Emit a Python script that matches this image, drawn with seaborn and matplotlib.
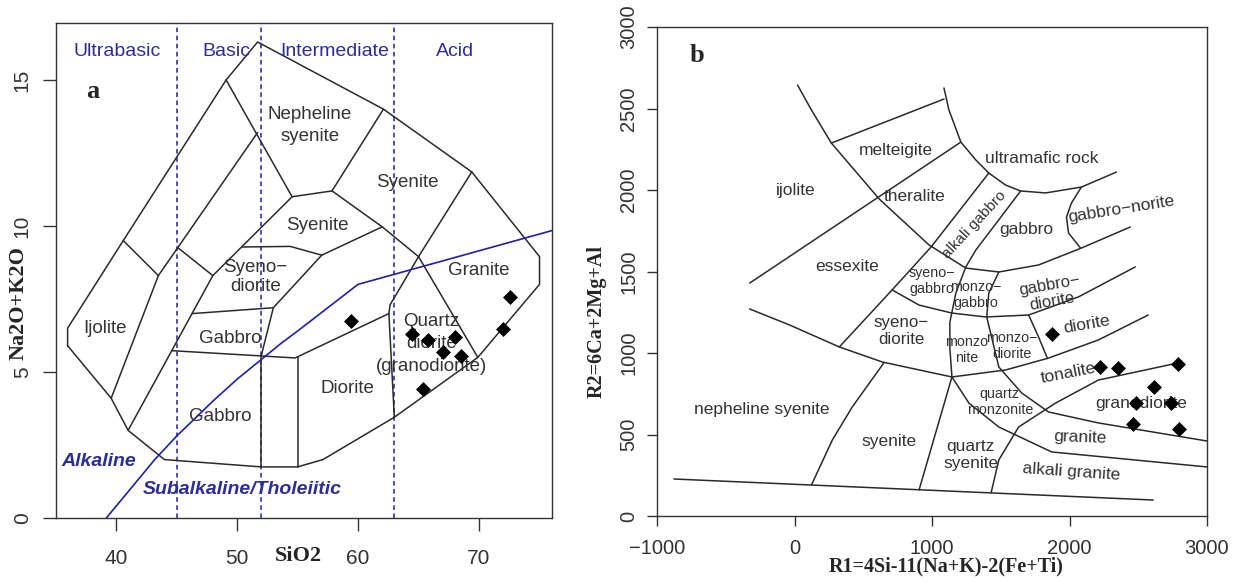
import matplotlib
matplotlib.use("Agg")
import matplotlib.pyplot as plt
import pandas as pd
import seaborn as sns

# ---------------- data: panel a (TAS, plutonic) ----------------
sio2 = [59.4, 64.5, 65.8, 68.0, 67.0, 68.5, 65.4, 72.6, 72.0]
alk = [6.75, 6.30, 6.10, 6.20, 5.68, 5.55, 4.42, 7.57, 6.47]

tas_outline = [(36.0, 5.9), (36.0, 6.5), (40.6, 9.5), (49.1, 15.0), (51.7, 16.3),
               (62.1, 14.0), (69.4, 11.85), (75.0, 8.95), (75.0, 8.0), (69.9, 5.5),
               (63.0, 3.45), (57.1, 2.0), (55.0, 1.75), (52.0, 1.75), (44.0, 2.0),
               (41.0, 3.0), (39.6, 4.1), (36.0, 5.9)]
tas_lines = [
    [(40.6, 9.5), (43.5, 8.3)],
    [(51.7, 13.2), (43.5, 8.3), (39.6, 4.1)],
    [(49.1, 15.0), (54.55, 11.0)],
    [(54.55, 11.0), (57.85, 11.2)],
    [(57.85, 11.2), (62.1, 14.0)],
    [(57.85, 11.2), (62.0, 9.97), (65.0, 8.95)],
    [(69.4, 11.85), (65.0, 8.95), (62.65, 7.3), (62.55, 7.0)],
    [(65.0, 8.95), (69.9, 5.5)],
    [(41.0, 3.0), (48.0, 8.3), (54.55, 11.0)],
    [(45.1, 9.26), (48.0, 8.3)],
    [(50.4, 9.28), (54.4, 9.3), (57.0, 9.0)],
    [(57.0, 9.0), (62.0, 9.97)],
    [(57.0, 9.0), (53.0, 7.2)],
    [(46.3, 7.0), (53.0, 7.2)],
    [(53.0, 7.2), (52.0, 5.55)],
    [(44.6, 5.73), (52.0, 5.55), (54.8, 5.48), (62.55, 7.0)],
    [(52.0, 5.55), (52.0, 1.75)],
    [(55.0, 5.52), (55.0, 1.75)],
    [(62.55, 7.0), (63.0, 3.45)],
]
ib_x = [39.2, 40, 43.2, 45, 48, 50, 53.7, 55, 60, 77.4]
ib_y = [0, 0.4, 2, 2.8, 4, 4.75, 6, 6.4, 8, 10]
silica_div = [45, 52, 63]
silica_names = ["Ultrabasic", "Basic", "Intermediate", "Acid"]
silica_name_x = [40.1, 49.1, 58.1, 68.0]

tas_labels = [("Nepheline\nsyenite", 56.0, 13.45, 1.4), ("Syenite", 64.05, 11.5, 1.0),
              ("Syenite", 56.6, 10.03, 1.0), ("Syeno\u2212\ndiorite", 51.5, 8.25, 1.2),
              ("Granite", 70.0, 8.46, 1.0), ("Gabbro", 49.4, 6.16, 1.0),
              ("Ijolite", 39.1, 6.5, 1.0), ("Gabbro", 48.6, 3.46, 1.0),
              ("Diorite", 59.1, 4.45, 1.0),
              ("Quartz\ndiorite\n(granodiorite)", 66.05, 5.96, 1.4)]

# ---------------- data: panel b (R1-R2) ----------------
r1 = [1870, 2225, 2355, 2790, 2616, 2485, 2739, 2464, 2797]
r2 = [1117, 914, 908, 932, 791, 693, 693, 564, 534]

rr_lines = [
    [(22, 2644), (123, 2491), (268, 2288), (616, 1945), (978, 1663), (1246, 1521),
     (1486, 1497), (1775, 1540), (2087, 1644), (2442, 1773)],
    [(1087, 2626), (1123, 2491), (1210, 2294), (1319, 2184), (1413, 2104), (1536, 2030),
     (1645, 1994), (1826, 1982), (2087, 2018), (2341, 2110)],
    [(268, 2288), (1087, 2558)],
    [(-326, 1429), (1210, 2294)],
    [(1413, 2104), (993, 1650), (710, 1387), (326, 1037)],
    [(1645, 1994), (1319, 1632), (1246, 1528), (1174, 1369), (1130, 1190), (1130, 1030),
     (1145, 853), (906, 160)],
    [(710, 1387), (906, 1294), (1145, 1245), (1391, 1221), (1703, 1233), (2065, 1344),
     (2478, 1528)],
    [(-326, 1270), (-36, 1172), (326, 1037), (638, 945), (978, 883), (1145, 853),
     (1536, 896), (1848, 969), (2210, 1080), (2572, 1233)],
    [(1486, 1497), (1413, 1368), (1398, 1221), (1486, 914), (1652, 755), (1848, 638),
     (2210, 571), (3000, 460)],
    [(1703, 1233), (1775, 1098), (1840, 966)],
    [(1145, 853), (1268, 693), (1486, 546), (1870, 393), (3000, 301)],
    [(1430, 143), (1486, 344), (1630, 546), (1899, 693), (2210, 834), (2790, 939)],
    [(652, 942), (420, 669), (275, 466), (123, 190)],
    [(2087, 2018), (2014, 1920), (1978, 1834), (1993, 1736), (2080, 1644)],
    [(-877, 227), (2609, 98)],
]

rr_labels = [  # text, R1, R2, size, rotation
    ("melteigite", 739, 2245, 12.5, 0), ("ijolite", 7, 1994, 12.5, 0),
    ("ultramafic rock", 1797, 2196, 12.5, 0), ("theralite", 877, 1963, 12.5, 0),
    ("alkali gabbro", 1304, 1785, 11, 47), ("gabbro", 1688, 1755, 12.5, 0),
    ("gabbro\u2212norite", 2377, 1883, 12.5, 9), ("essexite", 384, 1528, 12.5, 0),
    ("syeno\u2212\ngabbro", 1000, 1442, 10.3, 0), ("monzo\u2212\ngabbro", 1319, 1356, 10.3, 0),
    ("gabbro\u2212\ndiorite", 1862, 1368, 12, 10), ("syeno\u2212\ndiorite", 775, 1135, 12.2, 0),
    ("monzo\nnite", 1254, 1018, 10.3, 0), ("monzo\u2212\ndiorite", 1580, 1043, 10.3, 0),
    ("diorite", 2123, 1172, 12.5, 10), ("tonalite", 1993, 877, 12.5, 11),
    ("quartz\nmonzonite", 1493, 699, 10.3, 0), ("granodiorite", 2522, 693, 12.5, 0),
    ("granite", 2080, 485, 12.5, -2), ("alkali granite", 2014, 270, 12.5, -4),
    ("quartz\nsyenite", 1283, 374, 12.5, 0), ("syenite", 688, 454, 12.5, 0),
    ("nepheline syenite", -239, 656, 12.5, 0),
]

# ---------------- styling ----------------
sns.set_theme(style="ticks")
plt.rcParams["font.family"] = ["Liberation Sans", "DejaVu Sans"]
LINE = "#2a2a2a"
BLUE = "#1f1fa8"
TBLUE = "#2d2d9a"
TXT = "#333333"
SERIF = ["Liberation Serif", "DejaVu Serif"]


def poly(ax, pts, color=LINE, lw=1.1, **kw):
    df = pd.DataFrame(pts, columns=["x", "y"])
    sns.lineplot(data=df, x="x", y="y", sort=False, estimator=None, ax=ax,
                 color=color, linewidth=lw, **kw)


fig = plt.figure(figsize=(12.38, 5.84), dpi=100)
axa = fig.add_axes([56 / 1238, 1 - 518 / 584, 496 / 1238, 495 / 584])
axb = fig.add_axes([657 / 1238, 1 - 516 / 584, 550 / 1238, 489 / 584])

# ---------------- panel a ----------------
poly(axa, tas_outline)
for seg in tas_lines:
    poly(axa, seg)
for xv in silica_div:
    axa.axvline(xv, color=BLUE, lw=1.1, linestyle=(0, (3, 2.3)), zorder=1)
poly(axa, list(zip(ib_x, ib_y)), color=BLUE, lw=1.2)
sns.scatterplot(x=sio2, y=alk, marker="D", color="black", s=58, linewidth=0,
                ax=axa, zorder=5)
for nm, xv in zip(silica_names, silica_name_x):
    axa.text(xv, 15.96, nm, color=TBLUE, fontsize=14, ha="center", va="center")
for t, xv, yv, lsp in tas_labels:
    axa.text(xv, yv, t, color=TXT, fontsize=13.5, ha="center", va="center",
             linespacing=lsp)
axa.text(38.6, 1.92, "Alkaline", color=TBLUE, fontsize=14, fontweight="bold",
         fontstyle="italic", ha="center", va="center")
axa.text(50.45, 0.96, "Subalkaline/Tholeiitic", color=TBLUE, fontsize=14,
         fontweight="bold", fontstyle="italic", ha="center", va="center")
axa.text(38.1, 14.6, "a", fontsize=19, fontweight="bold", family=SERIF,
         ha="center", va="center")

axa.set_xlim(35.04, 76.03)
axa.set_ylim(0, 16.95)
axa.set_xticks([40, 50, 60, 70])
axa.set_yticks([0, 5, 10, 15])
axa.tick_params(axis="both", direction="out", length=9.5, width=1.0, colors="#333333",
                labelsize=15)
axa.tick_params(axis="x", pad=13)
axa.tick_params(axis="y", pad=8, labelrotation=90)
for lab in axa.get_yticklabels():
    lab.set_va("center")
axa.set_xlabel("SiO2", family=SERIF, fontweight="bold", fontsize=16)
axa.set_ylabel("Na2O+K2O", family=SERIF, fontweight="bold", fontsize=16)
axa.xaxis.set_label_coords(0.488, -0.077)
axa.xaxis.label.set_va("center")
axa.yaxis.set_label_coords(-0.0756, 0.434)
axa.yaxis.label.set_va("center")

# ---------------- panel b ----------------
for seg in rr_lines:
    poly(axb, seg)
sns.scatterplot(x=r1, y=r2, marker="D", color="black", s=58, linewidth=0,
                ax=axb, zorder=5)
for t, xv, yv, fs, rot in rr_labels:
    axb.text(xv, yv, t, color=TXT, fontsize=fs, ha="center", va="center",
             rotation=rot, rotation_mode="anchor", linespacing=1.15)
axb.text(-710, 2828, "b", fontsize=19, fontweight="bold", family=SERIF,
         ha="center", va="center")

axb.set_xlim(-1000, 3000)
axb.set_ylim(0, 3000)
axb.set_xticks([-1000, 0, 1000, 2000, 3000])
axb.set_yticks([0, 500, 1000, 1500, 2000, 2500, 3000])
axb.tick_params(axis="both", direction="out", length=7.5, width=1.0, colors="#333333",
                labelsize=14.5)
axb.tick_params(axis="x", pad=9)
axb.tick_params(axis="y", pad=6, labelrotation=90)
for lab in axb.get_yticklabels():
    lab.set_va("center")
axb.set_xlabel("R1=4Si-11(Na+K)-2(Fe+Ti)", family=SERIF, fontweight="bold", fontsize=14.5)
axb.set_ylabel("R2=6Ca+2Mg+Al", family=SERIF, fontweight="bold", fontsize=14.5)
axb.xaxis.set_label_coords(0.525, -0.104)
axb.xaxis.label.set_va("center")
axb.yaxis.set_label_coords(-0.109, 0.397)
axb.yaxis.label.set_va("center")

for ax in (axa, axb):
    for sp in ax.spines.values():
        sp.set_visible(True)
        sp.set_color("#333333")
        sp.set_linewidth(1.0)
    ax.set_facecolor("white")

fig.savefig("out.png", dpi=100, facecolor="white")
